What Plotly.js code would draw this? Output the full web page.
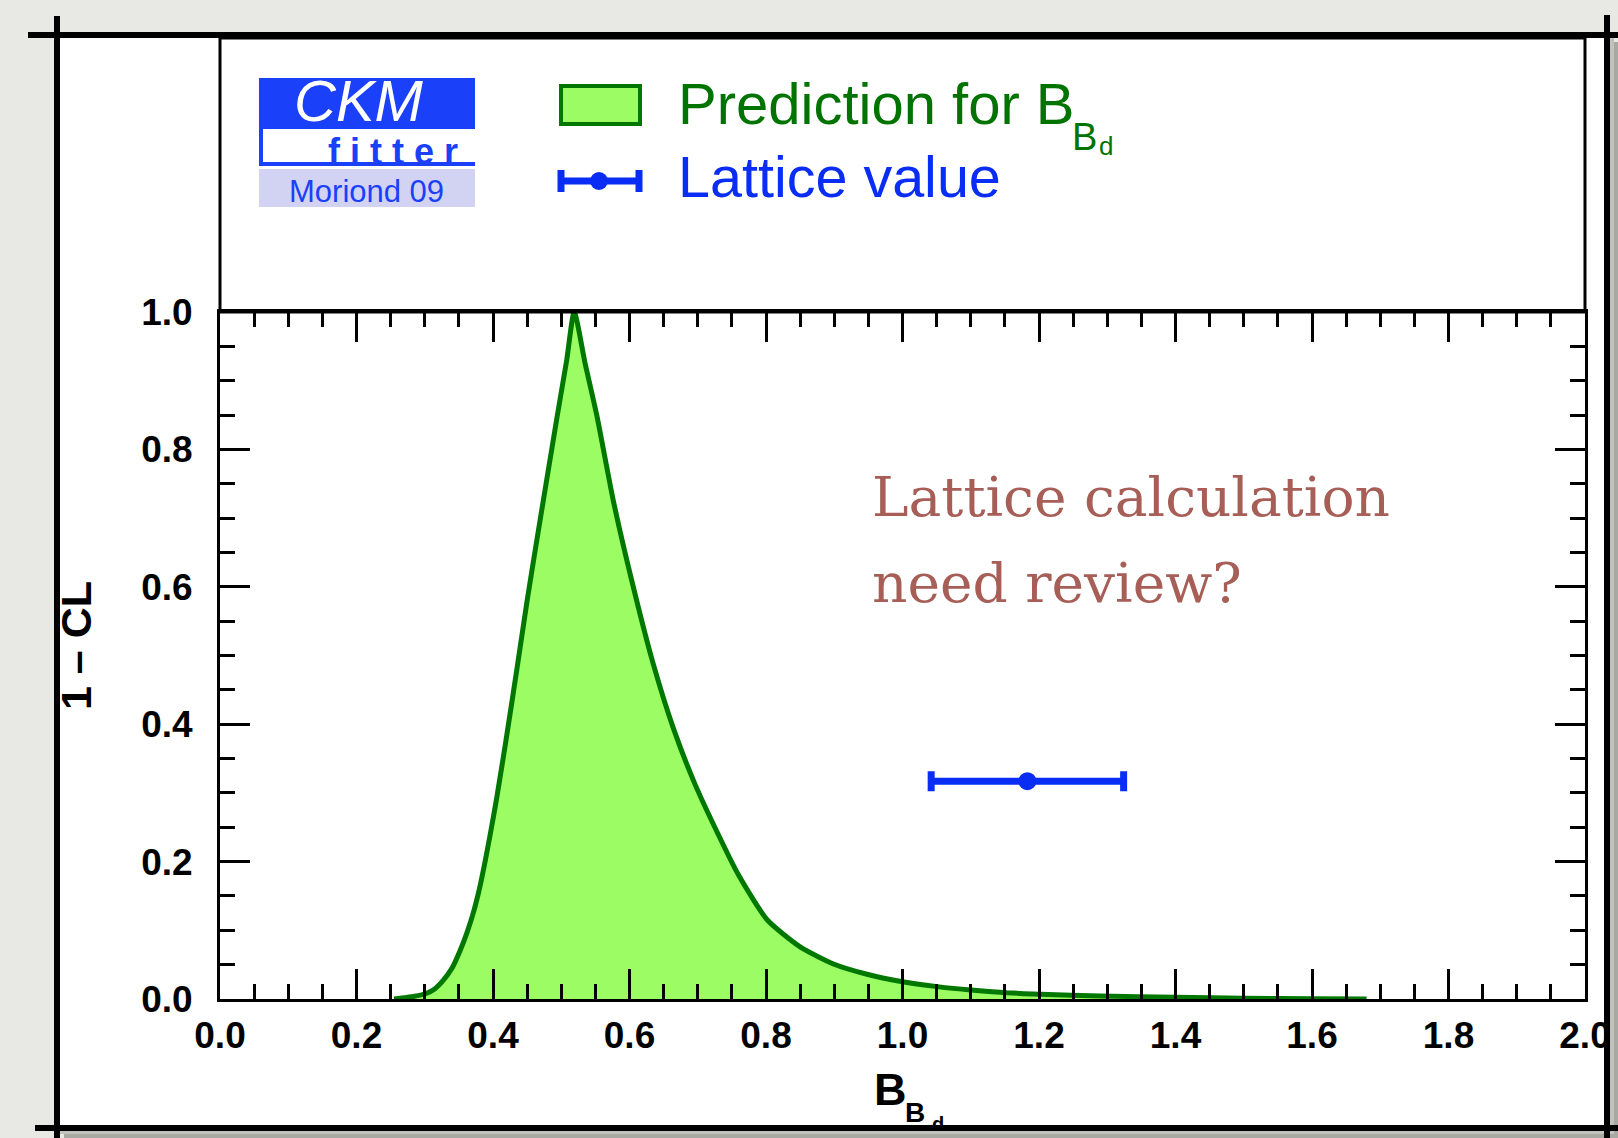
<!DOCTYPE html>
<html>
<head>
<meta charset="utf-8">
<script src="https://cdn.plot.ly/plotly-3.0.1.min.js"></script>
<style>
  html, body { margin: 0; padding: 0; background: #e8e8e5; }
  #chart { width: 1618px; height: 1138px; }
</style>
</head>
<body>
<div id="chart"></div>
<script>
// Scan of 1 - CL as a function of B_Bd (CKMfitter prediction)
const bbd = [0.255, 0.270, 0.285, 0.302, 0.315, 0.327, 0.340, 0.352, 0.362, 0.371,
             0.380, 0.388, 0.396, 0.405, 0.418, 0.435, 0.450, 0.469, 0.494, 0.508,
             0.519, 0.535, 0.552, 0.577, 0.606, 0.635, 0.665, 0.695, 0.725, 0.760,
             0.802, 0.850, 0.899, 0.948, 1.000, 1.051, 1.100, 1.153, 1.202, 1.290,
             1.400, 1.500, 1.600, 1.680];
const oneMinusCL = [0.000, 0.002, 0.004, 0.008, 0.015, 0.027, 0.045, 0.071, 0.097, 0.125,
                    0.160, 0.198, 0.240, 0.290, 0.370, 0.480, 0.580, 0.697, 0.848, 0.930,
                    1.000, 0.925, 0.850, 0.722, 0.598, 0.487, 0.392, 0.315, 0.250, 0.180,
                    0.115, 0.076, 0.051, 0.036, 0.025, 0.018, 0.013, 0.009, 0.0068, 0.0045,
                    0.0025, 0.0012, 0.0005, 0.000];

// Lattice input: central value with its 1 sigma range, drawn at 1 - CL = 0.317
const latticeX = [1.183];
const latticeY = [0.317];
const latticeErr = [0.141];

const predictionName = 'Prediction for B';
const latticeName = 'Lattice value';

const GREEN_LINE = '#007800';
const GREEN_FILL = '#9bfc63';
const GREEN_TEXT = '#007300';
const BLUE = '#0a2df5';
const LOGO_BLUE = '#1a40fa';
const LOGO_LILAC = '#d2d3f3';
const NOTE_COLOR = '#a65e57';

// page geometry
const W = 1618, H = 1138;
const M = { l: 220, r: 33, t: 312, b: 139 };
const PW = W - M.l - M.r, PH = H - M.t - M.b;
const fx = p => (p - M.l) / PW;          // pixel x -> paper x
const fy = p => (H - M.b - p) / PH;      // pixel y -> paper y

const traces = [
  {
    type: 'scatter', mode: 'lines', name: predictionName,
    x: bbd, y: oneMinusCL,
    fill: 'tozeroy', fillcolor: GREEN_FILL,
    line: { color: GREEN_LINE, width: 5, shape: 'spline', smoothing: 0.6 },
    hoverinfo: 'x+y'
  },
  {
    type: 'scatter', mode: 'markers', name: latticeName,
    x: latticeX, y: latticeY,
    marker: { color: BLUE, size: 18 },
    error_x: { type: 'data', array: latticeErr, symmetric: true,
               color: BLUE, thickness: 7, width: 10 },
    cliponaxis: false
  }
];

const tickFont = { family: 'Liberation Sans, Arial, sans-serif', size: 37, weight: 'bold', color: '#000' };

function axis(range) {
  return {
    range: range, showline: true, linewidth: 3, linecolor: '#000',
    mirror: 'allticks', ticks: 'inside', ticklen: 30, tickwidth: 3, tickcolor: '#000',
    tick0: 0, dtick: 0.2, tickformat: '.1f', tickfont: tickFont,
    minor: { dtick: 0.05, ticks: 'inside', ticklen: 15, tickwidth: 3, tickcolor: '#000' },
    showgrid: false, zeroline: false, fixedrange: true
  };
}

const xaxis = axis([0, 2]);
xaxis.ticklabelstandoff = 2;
const yaxis = axis([0, 1]);
yaxis.ticklabelstandoff = 17;

function rect(x0, y0, x1, y1, fill, line, layer) {
  return { type: 'rect', xref: 'paper', yref: 'paper',
           x0: fx(x0), x1: fx(x1), y0: fy(y1), y1: fy(y0),
           fillcolor: fill || 'rgba(0,0,0,0)',
           line: line || { width: 0 }, layer: layer || 'above' };
}
function seg(x0, y0, x1, y1, color, width) {
  return { type: 'line', xref: 'paper', yref: 'paper',
           x0: fx(x0), x1: fx(x1), y0: fy(y0), y1: fy(y1),
           line: { color: color, width: width }, layer: 'above' };
}

const shapes = [
  // page card with its shadow
  rect(64, 42, 1618, 1138, '#a9a9a3', null, 'below'),
  rect(60, 38, 1614, 1134, '#c2c2bc', null, 'below'),
  rect(57, 35, 1607, 1128, '#ffffff', null, 'below'),
  // header box above the plot
  rect(220, 38, 1585, 312, null, { color: '#000', width: 3 }),
  // CKMfitter logo
  rect(259, 78, 475, 166, LOGO_BLUE),
  rect(263, 129, 475, 162, '#ffffff'),
  rect(259, 169, 475, 207, LOGO_LILAC),
  // legend: prediction swatch
  rect(561, 86, 640, 124, GREEN_FILL, { color: GREEN_LINE, width: 4 }),
  // legend: lattice error bar
  seg(560, 181, 640, 181, BLUE, 7),
  seg(561, 170, 561, 192, BLUE, 7),
  seg(639, 170, 639, 192, BLUE, 7),
  { type: 'circle', xref: 'paper', yref: 'paper',
    x0: fx(590), x1: fx(608), y0: fy(190), y1: fy(172),
    fillcolor: BLUE, line: { width: 0 }, layer: 'above' },
  // slide frame lines
  seg(28, 35, 1618, 35, '#000', 6),
  seg(57, 16, 57, 1138, '#000', 6),
  seg(1607, 15, 1607, 1138, '#000', 6),
  seg(35, 1128, 1618, 1128, '#000', 6)
];

function note(text, x, y, font, extra) {
  return Object.assign({ text: text, xref: 'paper', yref: 'paper',
                         x: fx(x), y: fy(y), xanchor: 'left', yanchor: 'middle',
                         showarrow: false, font: font, borderpad: 0 }, extra || {});
}
const sans = (size, color, weight, style) => ({
  family: 'Liberation Sans, Arial, sans-serif', size: size, color: color,
  weight: weight || 'normal', style: style || 'normal'
});

const annotations = [
  // logo text
  note('CKM', 359, 101, sans(58, '#ffffff', 'normal', 'italic'), { xanchor: 'center' }),
  note('f i t t e r', 393, 152, sans(36, LOGO_BLUE, 'bold'), { xanchor: 'center' }),
  note('Moriond 09', 366, 191, sans(31, LOGO_BLUE), { xanchor: 'center' }),
  // legend labels
  note(predictionName, 677, 103, sans(58, GREEN_TEXT)),
  note('B', 1071, 137, sans(38, GREEN_TEXT)),
  note('d', 1098, 146, sans(26, GREEN_TEXT)),
  note(latticeName, 677, 177, sans(57.5, BLUE)),
  // remark
  note('Lattice calculation', 871, 497,
       { family: 'DejaVu Serif, serif', size: 55, color: NOTE_COLOR }),
  note('need review?', 871, 583,
       { family: 'DejaVu Serif, serif', size: 55, color: NOTE_COLOR }),
  // axis titles
  note('1 – CL', 76, 646, sans(43, '#000', 'bold'), { xanchor: 'center', textangle: -90 }),
  note('B', 873, 1089, sans(45, '#000', 'bold')),
  note('B', 904, 1112, sans(28, '#000', 'bold')),
  note('d', 931, 1124, sans(20, '#000', 'bold'))
];

const layout = {
  width: W, height: H,
  margin: M,
  paper_bgcolor: '#e8e8e5',
  plot_bgcolor: 'rgba(0,0,0,0)',
  showlegend: false,
  xaxis: xaxis, yaxis: yaxis,
  shapes: shapes,
  annotations: annotations,
  hovermode: 'closest'
};

Plotly.newPlot('chart', traces, layout, { displayModeBar: false });
</script>
</body>
</html>
